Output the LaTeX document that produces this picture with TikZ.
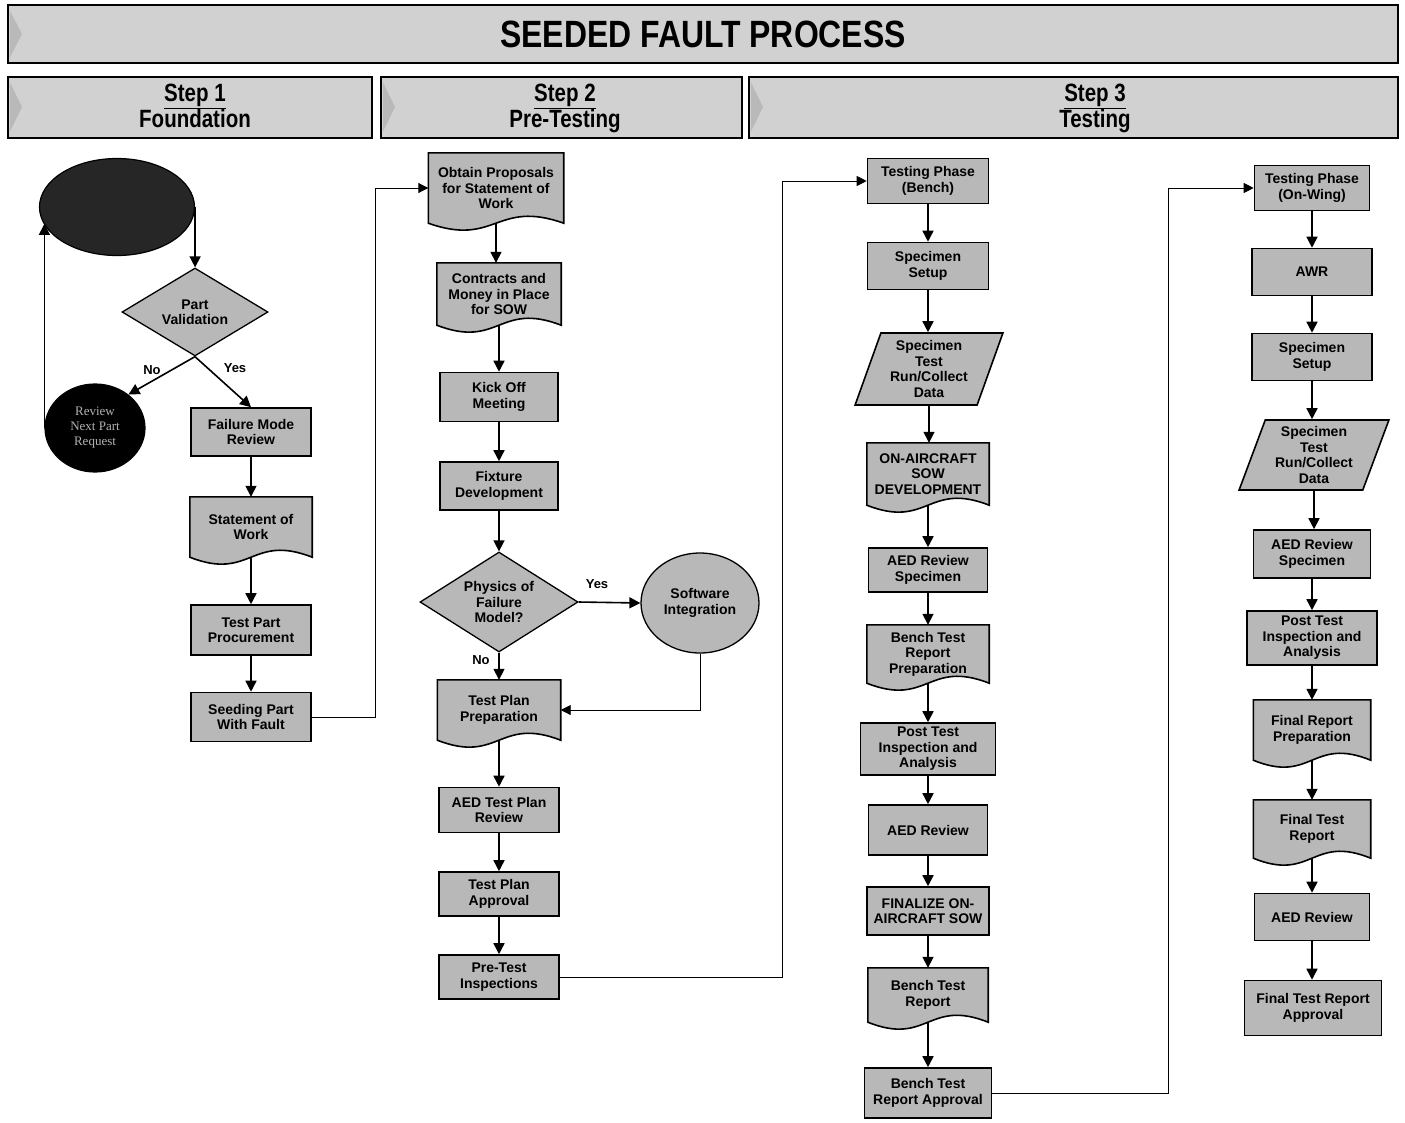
\documentclass[tikz,border=0pt]{standalone}
\usepackage{fontspec}
\usepackage{graphicx}
\setmainfont{Liberation Sans}
\newfontfamily\serf{Liberation Serif}
\usetikzlibrary{shapes.geometric,arrows.meta,calc,backgrounds}
\definecolor{boxgray}{gray}{0.72}
\definecolor{hdrgray}{gray}{0.82}
\newcommand\docoutline[1]{\path[docline] (#1.south west) -- (#1.north west) -- (#1.north east) -- (#1.south east) .. controls ($(#1.south)+(0,-24)$) and ($(#1.south)+(0,24)$) .. (#1.south west) -- cycle;}
\tikzset{
 wh/.style 2 args={minimum width=#1pt, minimum height=#2pt},
 base/.style={font=\bfseries\fontsize{14}{15.5}\selectfont, align=center, inner sep=1pt},
 procbox/.style={base, rectangle, draw, line width=1.6pt, fill=boxgray},
 docbox/.style={base, rectangle, draw=none},
 docline/.style={draw, line width=1.6pt, fill=boxgray},
 decbox/.style={base, diamond, aspect=1.6, draw, line width=1.3pt, fill=boxgray},
 iobox/.style={base, trapezium, trapezium left angle=70, trapezium right angle=110, trapezium stretches=true, draw, line width=1.6pt, fill=boxgray},
 arr/.style={line width=1.6pt, -{Triangle[length=11pt,width=11pt]}},
 thinarr/.style={line width=0.9pt, -{Triangle[length=10pt,width=10pt]}},
 lbl/.style={font=\bfseries\fontsize{13}{15}\selectfont},
 hdr/.style={draw, line width=2pt, fill=hdrgray, inner sep=0pt},
 hdrtxt/.style={font=\bfseries\fontsize{25}{26}\selectfont, align=center},
 tri/.style={fill=gray!55},
}
\begin{document}
\begin{tikzpicture}[x=1pt,y=-1pt]
\useasboundingbox (0,0) rectangle (1405,1122);
% headers
\node[hdr, wh={1390}{58}, font=\bfseries\fontsize{38}{40}\selectfont] (title) at (703,34) {\scalebox{0.84}[1]{SEEDED FAULT PROCESS}};
\node[hdr, wh={364}{61}] (h1) at (190,107) {};
\node[hdr, wh={361}{61}] (h2) at (561.5,107) {};
\node[hdr, wh={649}{61}] (h3) at (1073.5,107) {};
\foreach \h in {title,h1,h2,h3}
  \fill[tri] ($(\h.north west)+(3,7)$) -- ($(\h.west)+(15,0)$) -- ($(\h.south west)+(3,-7)$) -- cycle;
\node[hdrtxt] (h1t) at (195,109) {\scalebox{0.82}[1]{\begin{tabular}{@{}c@{}}\underline{Step 1}\\Foundation\end{tabular}}};
\node[hdrtxt] (h2t) at (565,109) {\scalebox{0.82}[1]{\begin{tabular}{@{}c@{}}\underline{Step 2}\\Pre-Testing\end{tabular}}};
\node[hdrtxt] (h3t) at (1095,109) {\scalebox{0.82}[1]{\begin{tabular}{@{}c@{}}\underline{Step 3}\\Testing\end{tabular}}};

% column 1
\node[ellipse, draw, line width=1.2pt, fill=black!85, wh={155}{97}] (ell) at (117,207) {};
\node[decbox, wh={146}{88}] (pv) at (195,312) {Part\\Validation};
\node[ellipse, draw, line width=1.2pt, fill=black, wh={100}{88}, inner sep=1pt, font=\serf\fontsize{13}{15}\selectfont, text=gray!60, align=center] (rnp) at (95,428) {Review\\Next Part\\Request};
\node[procbox, wh={120}{48}] (fmr) at (251,432) {Failure Mode\\Review};
\node[docbox, wh={122}{60}] (sow) at (251,527) {Statement of\\Work};
\node[procbox, wh={120}{50}] (tpp) at (251,630) {Test Part\\Procurement};
\node[procbox, wh={120}{49}] (spwf) at (251,717) {Seeding Part\\With Fault};

% column 2
\node[docbox, wh={135}{70}] (op) at (496,188) {Obtain Proposals\\for Statement of\\Work};
\node[docbox, wh={124}{62}] (cm) at (499,294) {Contracts and\\Money in Place\\for SOW};
\node[procbox, wh={118}{49}] (kom) at (499,397) {Kick Off\\Meeting};
\node[procbox, wh={118}{48}] (fd) at (499,486) {Fixture\\Development};
\node[decbox, wh={158}{100}] (pof) at (499,602) {Physics of\\Failure\\Model?};
\node[base, ellipse, draw, line width=1.3pt, fill=boxgray, wh={118}{100}] (si) at (700,603) {Software\\Integration};
\node[docbox, wh={123}{60}] (tpprep) at (499,710) {Test Plan\\Preparation};
\node[procbox, wh={120}{45}] (aedtpr) at (499,810) {AED Test Plan\\Review};
\node[procbox, wh={120}{44}] (tpa) at (499,894) {Test Plan\\Approval};
\node[procbox, wh={120}{44}] (pti) at (499,977) {Pre-Test\\Inspections};

% column 3
\node[procbox, wh={121}{45}] (tpb) at (928,181) {Testing Phase\\(Bench)};
\node[procbox, wh={121}{47}] (ss3) at (928,266) {Specimen\\Setup};
\node[iobox, wh={148}{72}] (par3) at (929,369) {Specimen\\Test\\Run/Collect\\Data};
\node[docbox, wh={122}{62}] (oas) at (928,474) {ON-AIRCRAFT\\SOW\\DEVELOPMENT};
\node[procbox, wh={119}{44}] (aedrs3) at (928,570) {AED Review\\Specimen};
\node[docbox, wh={122}{58}] (btrp) at (928,654) {Bench Test\\Report\\Preparation};
\node[procbox, wh={135}{52}] (pti3) at (928,749) {Post Test\\Inspection and\\Analysis};
\node[procbox, wh={119}{50}] (aedr3) at (928,830) {AED Review};
\node[procbox, wh={122}{48}] (fin) at (928,911) {FINALIZE ON-\\AIRCRAFT SOW};
\node[docbox, wh={120}{54}] (btr) at (928,995) {Bench Test\\Report};
\node[procbox, wh={127}{50}] (btra) at (928,1093) {Bench Test\\Report Approval};

% column 4
\node[procbox, wh={115}{45}] (tpow) at (1312,188) {Testing Phase\\(On-Wing)};
\node[procbox, wh={120}{47}] (awr) at (1312,272) {AWR};
\node[procbox, wh={120}{47}] (ss4) at (1312,357) {Specimen\\Setup};
\node[iobox, wh={150}{70}] (par4) at (1314,455) {Specimen\\Test\\Run/Collect\\Data};
\node[procbox, wh={117}{48}] (aedrs4) at (1312,554) {AED Review\\Specimen};
\node[procbox, wh={130}{54}] (pti4) at (1312,638) {Post Test\\Inspection and\\Analysis};
\node[docbox, wh={117}{60}] (frp) at (1312,730) {Final Report\\Preparation};
\node[docbox, wh={117}{58}] (ftr) at (1312,829) {Final Test\\Report};
\node[procbox, wh={115}{47}] (aedr4) at (1312,917) {AED Review};
\node[procbox, wh={137}{55}] (ftra) at (1313,1008) {Final Test Report\\Approval};

% document outlines behind text
\begin{pgfonlayer}{background}
\fill[white] (0,0) rectangle (1405,1122);
\foreach \d in {sow,op,cm,tpprep,oas,btrp,btr,frp,ftr} {\docoutline{\d}}
\end{pgfonlayer}

% column 1 connectors
\draw[arr] (ell.east) -- (ell.east |- pv.north);
\draw[arr] (pv.south) -- (rnp.45);
\draw[arr] (pv.south) -- (fmr.north);
\node[lbl] (lno1) at (152,370) {No};
\node[lbl] (lyes1) at (235,368) {Yes};
\draw[arr] (rnp.west) -- (rnp.west |- ell.193);

% column 2 connectors
\draw[arr] (op.south) -- (op.south |- cm.north);
\draw[arr] (pof.east) -- (si.west);
\node[lbl] (lyes2) at (597,584) {Yes};
\draw[arr] (pof.south) -- (pof.south |- tpprep.north);
\node[lbl] (lno2) at (481,660) {No};
\draw[thinarr] (si.south) |- (tpprep.east);

% vertical flow arrows
\foreach \a/\b in {fmr/sow, sow/tpp, tpp/spwf, cm/kom, kom/fd, fd/pof, tpprep/aedtpr, aedtpr/tpa, tpa/pti, tpb/ss3, ss3/par3, par3/oas, oas/aedrs3, aedrs3/btrp, btrp/pti3, pti3/aedr3, aedr3/fin, fin/btr, btr/btra, tpow/awr, awr/ss4, ss4/par4, par4/aedrs4, aedrs4/pti4, pti4/frp, frp/ftr, ftr/aedr4, aedr4/ftra}
  \draw[arr] (\a.south) -- (\a.south |- \b.north);

% cross-column connectors
\coordinate (k1) at (375,188);
\draw[thinarr] (spwf.east) -| (k1) -- (op.west);
\coordinate (k2) at (782,181);
\draw[thinarr] (pti.east) -| (k2) -- (tpb.west);
\coordinate (k3) at (1168,188);
\draw[thinarr] (btra.east) -| (k3) -- (tpow.west);
\end{tikzpicture}
\end{document}
